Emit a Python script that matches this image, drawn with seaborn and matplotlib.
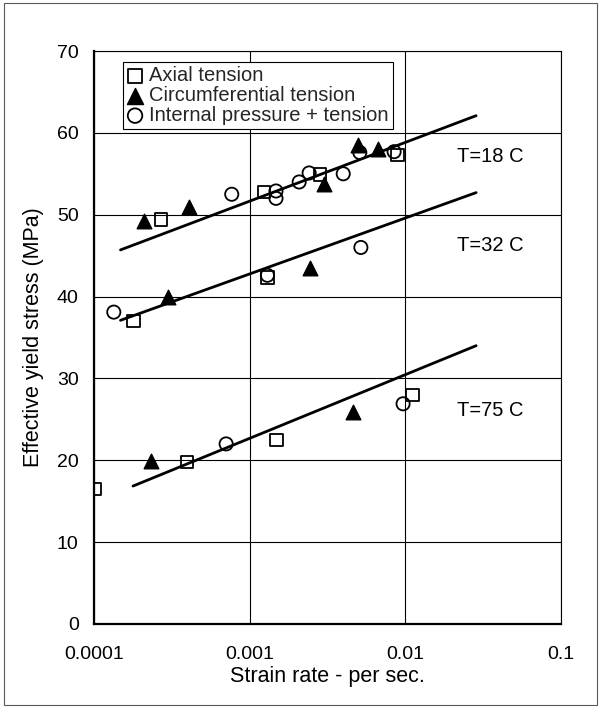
import matplotlib
matplotlib.use("Agg")
import matplotlib.pyplot as plt
from matplotlib.patches import Rectangle
import numpy as np
import pandas as pd
import seaborn as sns

# ---------------- data ----------------
series_names = ["Axial tension", "Circumferential tension", "Internal pressure + tension"]

axial_rate = [2.70e-4, 1.24e-3, 2.84e-3, 8.89e-3,
              1.80e-4, 1.30e-3,
              1.01e-4, 3.95e-4, 1.49e-3, 1.11e-2]
axial_stress = [49.4, 52.8, 54.9, 57.3,
                37.0, 42.3,
                16.5, 19.8, 22.5, 28.0]

circ_rate = [2.11e-4, 4.05e-4, 3.01e-3, 5.00e-3, 6.71e-3,
             3.01e-4, 2.44e-3,
             2.31e-4, 4.62e-3]
circ_stress = [49.2, 50.9, 53.8, 58.5, 58.0,
               40.0, 43.5,
               19.9, 25.9]

ipt_rate = [7.67e-4, 1.476e-3, 1.476e-3, 2.08e-3, 2.41e-3, 3.99e-3, 5.10e-3, 8.47e-3,
            1.34e-4, 1.30e-3, 5.18e-3,
            7.06e-4, 9.67e-3]
ipt_stress = [52.5, 52.9, 52.0, 54.0, 55.1, 55.0, 57.6, 57.7,
              38.1, 42.6, 46.0,
              22.0, 26.9]

# trend lines (end points)
fit_labels = ["T=18 C", "T=32 C", "T=75 C"]
fit_rate_start = [1.48e-4, 1.48e-4, 1.78e-4]
fit_rate_end = [2.85e-2, 2.85e-2, 2.85e-2]
fit_stress_start = [45.7, 37.1, 16.85]
fit_stress_end = [62.1, 52.7, 34.0]

# temperature label positions
label_rate = [0.0353, 0.0353, 0.0353]
label_stress = [57.1, 46.3, 26.1]

x_ticks = [0.0001, 0.001, 0.01, 0.1]
x_tick_labels = ["0.0001", "0.001", "0.01", "0.1"]
y_ticks = [0, 10, 20, 30, 40, 50, 60, 70]

# ---------------- figure ----------------
sns.set_theme(style="white")
plt.rcParams["font.family"] = ["Liberation Sans", "DejaVu Sans"]

fig = plt.figure(figsize=(6.0, 7.08), dpi=100)
ax = fig.add_axes([94 / 600, 1 - 624 / 708, (561 - 94) / 600, (624 - 51) / 708])

ax.set_xscale("log")
ax.set_xlim(1e-4, 1e-1)
ax.set_ylim(0, 70)

# grid
ax.set_xticks(x_ticks)
ax.set_xticklabels(x_tick_labels)
ax.set_yticks(y_ticks)
ax.xaxis.set_minor_locator(matplotlib.ticker.NullLocator())
ax.grid(True, which="major", color="black", linewidth=0.8)
ax.set_axisbelow(True)

# trend lines
fit_df = pd.DataFrame({
    "rate": fit_rate_start + fit_rate_end,
    "stress": fit_stress_start + fit_stress_end,
    "fit": fit_labels + fit_labels,
})
sns.lineplot(data=fit_df, x="rate", y="stress", units="fit", estimator=None,
             color="black", linewidth=2.0, ax=ax, legend=False, sort=True)

# data series
sns.scatterplot(x=axial_rate, y=axial_stress, marker="s", s=9.0 ** 2,
                facecolor="none", edgecolor="black", linewidth=1.3,
                label=series_names[0], ax=ax, zorder=5)
sns.scatterplot(x=circ_rate, y=circ_stress, marker="^", s=10.5 ** 2,
                facecolor="black", edgecolor="black", linewidth=1.0,
                label=series_names[1], ax=ax, zorder=5)
sns.scatterplot(x=ipt_rate, y=ipt_stress, marker="o", s=9.5 ** 2,
                facecolor="none", edgecolor="black", linewidth=1.3,
                label=series_names[2], ax=ax, zorder=5)

for lab, xr, ys in zip(fit_labels, label_rate, label_stress):
    ax.text(xr, ys, lab, ha="center", va="center", fontsize=14.5, color="black")

# spines
for side in ["left", "bottom"]:
    ax.spines[side].set_color("black")
    ax.spines[side].set_linewidth(1.6)
for side in ["top", "right"]:
    ax.spines[side].set_color("black")
    ax.spines[side].set_linewidth(0.8)

ax.tick_params(axis="x", length=0, pad=16, labelsize=14, colors="black")
ax.tick_params(axis="y", length=0, pad=11, labelsize=14, colors="black")
ax.set_xlabel("Strain rate - per sec.", fontsize=15.5, color="black", labelpad=2)
ax.set_ylabel("Effective yield stress (MPa)", fontsize=15.5, color="black", labelpad=9)

leg = ax.legend(loc="upper left", bbox_to_anchor=(0.062, 0.981), borderaxespad=0,
                fontsize=14.5, frameon=True, fancybox=False, framealpha=1,
                handlelength=0.8, handletextpad=0.3, borderpad=0.2,
                labelspacing=0.05, markerscale=1.1)
leg.get_frame().set_edgecolor("black")
leg.get_frame().set_linewidth(0.8)

fig.patches.append(Rectangle((4 / 600, 1 - 705 / 708), 593 / 600, 702 / 708,
                             transform=fig.transFigure, fill=False,
                             edgecolor="0.35", linewidth=0.8))

fig.savefig("out.png", dpi=100)
